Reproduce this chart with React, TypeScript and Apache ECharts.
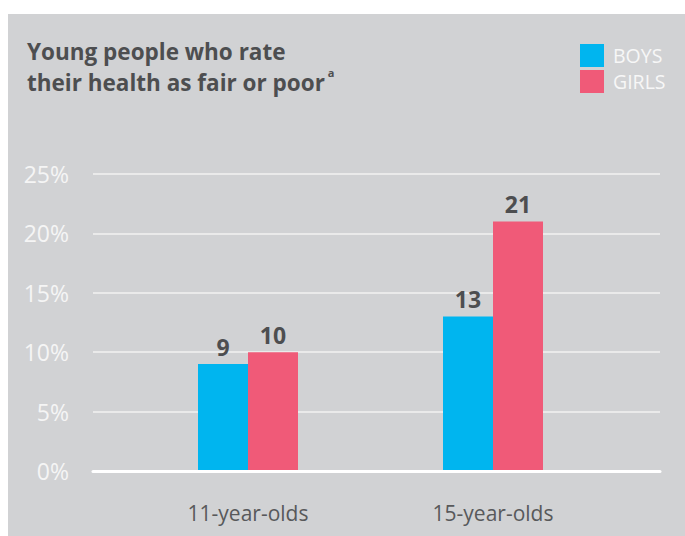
import React, { useEffect, useRef } from "react";
import * as echarts from "echarts";

const categories = ["11-year-olds", "15-year-olds"];
const boys = [9, 13];
const girls = [10, 21];
const seriesNames = ["BOYS", "GIRLS"];
const yTicks = [0, 5, 10, 15, 20, 25];

const FONT = "'Open Sans', 'Noto Sans', sans-serif";

export default function App() {
  const ref = useRef<HTMLDivElement>(null);
  useEffect(() => {
    if (!ref.current) return;
    const chart = echarts.init(ref.current, undefined, { renderer: "svg" });
    const yMax = yTicks[yTicks.length - 1];
    const barLabel = {
      show: true,
      position: "top",
      distance: 6,
      color: "#4d4e50",
      fontSize: 23,
      fontWeight: "bold",
      fontFamily: FONT,
    };
    chart.setOption({
      animation: false,
      backgroundColor: "#ffffff",
      textStyle: { fontFamily: FONT },
      graphic: [
        {
          type: "rect",
          z: -10,
          silent: true,
          shape: { x: 8, y: 14, width: 677, height: 522 },
          style: { fill: "#d1d2d4" },
        },
      ],
      title: {
        left: 22,
        top: 31,
        text: "Young people who rate\ntheir health as fair or poor{sup|a}",
        textStyle: {
          fontFamily: FONT,
          fontSize: 22.5,
          fontWeight: "bold",
          color: "#4d4e50",
          lineHeight: 31,
          rich: {
            sup: {
              fontFamily: FONT,
              fontSize: 11,
              color: "#4d4e50",
              verticalAlign: "top",
              padding: [0, 0, 12, 3],
            },
          },
        },
      },
      legend: {
        left: 575,
        top: 39,
        orient: "vertical",
        itemWidth: 24,
        itemHeight: 23,
        itemGap: 3,
        icon: "rect",
        data: seriesNames,
        textStyle: { color: "#f7f7f7", fontSize: 19.5, fontFamily: FONT, padding: [0, 0, 0, 4] },
      },
      grid: [
        { left: 93, right: 25, top: 174, bottom: 65 },
        { left: 125.5, right: 69.5, top: 174, bottom: 65 },
      ],
      xAxis: [
        {
          gridIndex: 0,
          type: "category",
          data: [""],
          axisLine: { show: true, lineStyle: { color: "#ffffff", width: 3 } },
          axisTick: { show: false },
          axisLabel: { show: false },
          z: 5,
        },
        {
          gridIndex: 1,
          type: "category",
          data: categories,
          axisLine: { show: false },
          axisTick: { show: false },
          axisLabel: {
            margin: 31,
            color: "#58595b",
            fontSize: 21,
            fontFamily: FONT,
          },
        },
      ],
      yAxis: [
        {
          gridIndex: 0,
          type: "value",
          min: 0,
          max: yMax,
          interval: 5,
          axisLine: { show: false },
          axisTick: { show: false },
          axisLabel: {
            margin: 24,
            color: "#f5f5f5",
            fontSize: 23,
            fontFamily: FONT,
            formatter: "{value}%",
          },
          splitLine: { show: true, lineStyle: { color: "#f2f2f2", width: 1.5 } },
        },
        {
          gridIndex: 1,
          type: "value",
          min: 0,
          max: yMax,
          interval: 5,
          show: false,
          splitLine: { show: false },
        },
      ],
      series: [
        {
          name: seriesNames[0],
          type: "bar",
          xAxisIndex: 1,
          yAxisIndex: 1,
          data: boys,
          barWidth: 50,
          barGap: "0%",
          itemStyle: { color: "#00b5ef" },
          label: barLabel,
        },
        {
          name: seriesNames[1],
          type: "bar",
          xAxisIndex: 1,
          yAxisIndex: 1,
          data: girls,
          barWidth: 50,
          barGap: "0%",
          itemStyle: { color: "#f05a78" },
          label: barLabel,
        },
      ],
    });
    return () => chart.dispose();
  }, []);
  return (
    <div
      ref={ref}
      style={{ position: "absolute", left: 0, top: 0, width: 685, height: 536 }}
    />
  );
}
